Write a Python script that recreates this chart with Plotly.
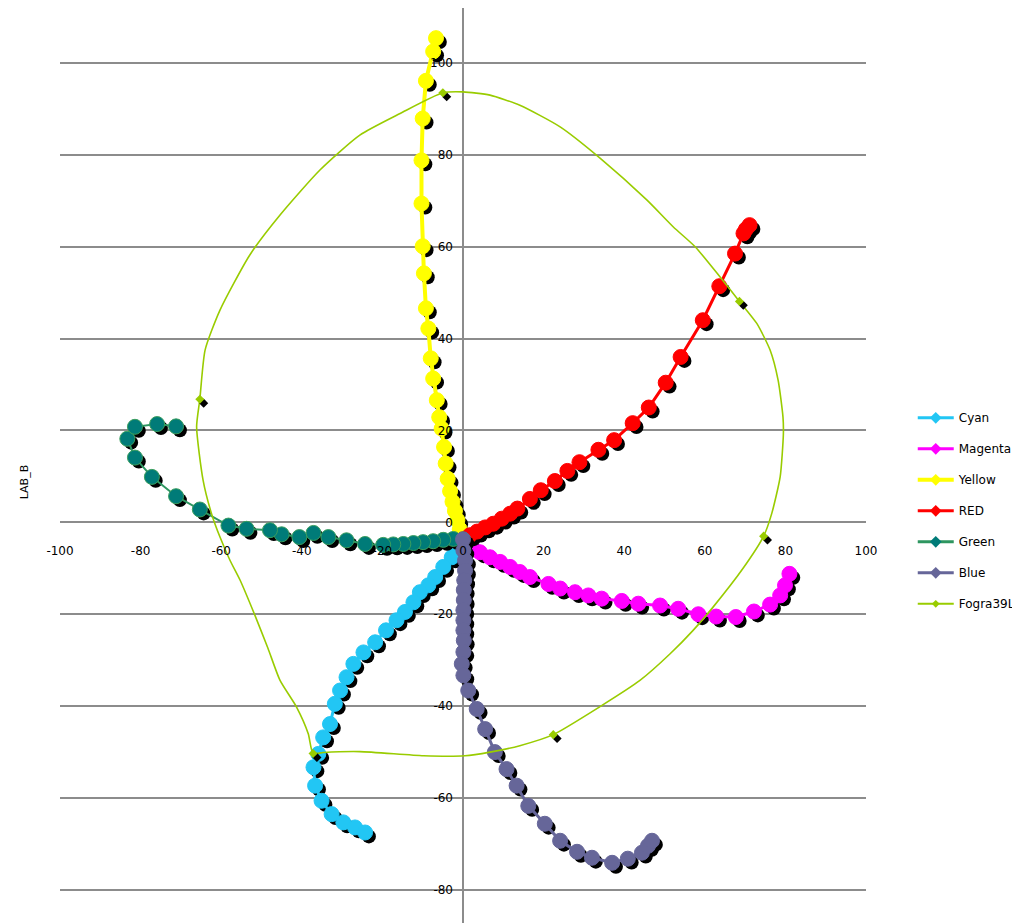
import plotly.graph_objects as go

# ---------------- data (a*, b*) ----------------
cyan_a = [0.0, -1.6, -2.8, -4.9, -6.9, -8.6, -10.7, -12.3, -14.4, -16.5, -19.1, -21.8, -24.7,
          -27.2, -28.9, -30.5, -31.8, -33.0, -34.7, -35.9, -37.1, -36.7, -35.1, -32.6, -29.7,
          -26.8, -24.3]
cyan_b = [-3.7, -6.5, -7.6, -9.7, -11.9, -13.7, -15.2, -17.4, -19.5, -21.3, -23.5, -26.1, -28.3,
          -30.8, -33.7, -36.6, -39.5, -43.9, -46.8, -50.4, -53.3, -57.3, -60.6, -63.5, -65.3,
          -66.4, -67.5]

magenta_a = [0.0, 1.7, 4.2, 6.7, 9.2, 11.7, 14.1, 16.6, 21.2, 24.1, 27.8, 31.1, 34.4, 39.4,
             43.5, 48.9, 53.4, 58.4, 62.8, 67.7, 72.2, 76.2, 78.7, 79.9, 81.0]
magenta_b = [-3.7, -5.0, -6.5, -7.6, -8.6, -9.7, -10.8, -11.9, -13.4, -14.4, -15.2, -15.9, -16.6,
             -17.1, -17.7, -18.1, -18.8, -20.0, -20.5, -20.6, -19.4, -17.9, -15.9, -13.7, -11.2]

yellow_a = [0.0, -0.8, -1.4, -2.0, -2.6, -3.2, -3.8, -4.3, -4.7, -5.3, -5.9, -6.5, -7.4, -8.0,
            -8.6, -9.2, -9.7, -10.0, -10.3, -10.3, -10.0, -9.2, -7.4, -6.7]
yellow_b = [-3.7, -1.5, 0.5, 2.5, 4.5, 6.8, 9.5, 12.8, 16.4, 20.4, 22.9, 26.6, 31.3, 35.7,
            42.2, 46.6, 54.2, 60.1, 69.4, 78.8, 87.9, 96.1, 102.5, 105.4]

red_a = [0.0, 1.7, 3.5, 5.5, 7.5, 9.6, 11.7, 13.5, 16.6, 19.3, 22.8, 25.9, 28.9, 33.6, 37.5,
         42.1, 46.1, 50.3, 54.0, 59.5, 63.6, 67.5, 69.6, 70.2, 71.1]
red_b = [-3.7, -2.8, -2.0, -1.1, -0.3, 0.8, 1.9, 3.0, 5.1, 7.0, 9.0, 11.2, 13.1, 15.8, 17.9,
         21.6, 25.0, 30.4, 36.0, 44.0, 51.4, 58.5, 62.9, 63.8, 64.7]

green_a = [0.0, -2.4, -4.9, -7.4, -9.9, -12.3, -14.8, -17.3, -19.8, -24.3, -28.9, -33.4, -37.1,
           -40.6, -45.0, -47.9, -53.7, -58.2, -65.3, -71.2, -77.2, -81.4, -83.3, -81.4, -75.9,
           -71.2]
green_b = [-3.7, -3.6, -3.8, -4.1, -4.3, -4.5, -4.7, -4.8, -4.9, -4.7, -3.9, -3.2, -2.3, -3.2,
           -2.6, -1.7, -1.4, -0.7, 2.8, 5.7, 9.9, 14.1, 18.2, 20.8, 21.4, 20.9]

blue_a = [0.0, 0.1, 0.5, 0.5, 0.3, 0.2, 0.2, 0.1, 0.1, 0.1, 0.2, 0.1, -0.3, 0.1, 1.3, 3.4, 5.5,
          7.9, 10.8, 13.3, 16.2, 20.3, 24.1, 28.3, 32.0, 37.0, 40.9, 44.4, 45.9, 46.9]
blue_b = [-3.7, -6.1, -8.3, -10.5, -12.6, -14.7, -16.9, -19.1, -21.3, -23.5, -25.7, -28.2, -30.8,
          -33.3, -36.6, -40.6, -45.0, -50.0, -53.7, -57.3, -61.7, -65.6, -69.3, -71.7, -73.0,
          -74.1, -73.2, -71.9, -70.4, -69.3]

# Fogra39L gamut outline and its six marked vertices
fogra_a = [-37.2, -34.7, -25.6, -9.8, 0.5, 6.7, 14.1, 22.4, 34.0, 43.9, 51.4, 57.1, 62.0, 69.5,
           74.6, 76.6, 78.7, 79.5, 79.4, 78.2, 76.2, 72.9, 68.6, 63.8, 57.6, 52.2, 45.6, 34.0,
           24.1, 14.1, 6.7, 0.0, -5.0, -15.6, -25.6, -35.5, -45.4, -52.9, -60.3, -64.0, -65.3,
           -66.1, -64.5, -62.4, -60.3, -57.8, -55.3, -51.6, -48.4, -45.4, -41.3, -38.4, -37.2]
fogra_b = [-50.3, -50.1, -49.9, -50.8, -50.8, -50.0, -48.6, -46.2, -40.1, -34.4, -28.6, -23.5,
           -18.5, -10.0, -3.0, 1.9, 9.9, 19.3, 22.9, 30.9, 37.5, 43.3, 48.1, 53.4, 60.0, 64.3,
           70.2, 79.3, 86.1, 90.8, 93.0, 93.7, 93.5, 89.0, 84.3, 76.7, 66.9, 58.2, 46.2, 37.5,
           26.8, 20.8, 9.2, 1.9, -3.2, -8.3, -12.6, -20.3, -27.4, -34.4, -40.2, -46.0, -50.3]
fogra_vertex_a = [-37.2, 22.4, 74.6, 68.6, -5.0, -65.3]
fogra_vertex_b = [-50.3, -46.2, -3.0, 48.1, 93.5, 26.8]

x_ticks = [-100, -80, -60, -40, -20, 0, 20, 40, 60, 80, 100]
y_ticks = [-80, -60, -40, -20, 0, 20, 40, 60, 80, 100]

# ---------------- styling ----------------
X_RANGE = [-100, 100]
Y_RANGE = [-87.2, 111.96]
SHADOW_DX = 0.95   # ~4 px to the right
SHADOW_DY = -0.85  # ~4 px down

series = [
    ("Cyan", cyan_a, cyan_b, "#22C6F4", "#22C6F4", None, 3),
    ("Magenta", magenta_a, magenta_b, "#FF00FF", "#FF00FF", None, 3),
    ("Yellow", yellow_a, yellow_b, "#FFFF00", "#FFFF00", None, 4),
    ("RED", red_a, red_b, "#FF0000", "#FF0000", None, 3),
    ("Green", green_a, green_b, "#007B78", "#2E9660", "#3A9E5E", 2),
    ("Blue", blue_a, blue_b, "#666699", "#666699", None, 3),
]

fig = go.Figure()

for name, xs, ys, mcol, lcol, mline, lw in series:
    fig.add_trace(go.Scatter(
        x=[v + SHADOW_DX for v in xs], y=[v + SHADOW_DY for v in ys],
        mode="markers", marker=dict(symbol="circle", size=14, color="black"),
        showlegend=False, hoverinfo="skip"))
    fig.add_trace(go.Scatter(
        x=xs, y=ys, mode="lines+markers", name=name,
        line=dict(color=lcol, width=lw),
        marker=dict(symbol="circle", size=15, color=mcol,
                    line=dict(color=mline if mline else mcol, width=1)),
        showlegend=False))

# Fogra39L
fig.add_trace(go.Scatter(x=fogra_a, y=fogra_b, mode="lines",
                         line=dict(color="#99CC00", width=1.6, shape="spline", smoothing=0.6),
                         showlegend=False, hoverinfo="skip"))
fig.add_trace(go.Scatter(
    x=[v + SHADOW_DX for v in fogra_vertex_a], y=[v + SHADOW_DY for v in fogra_vertex_b],
    mode="markers", marker=dict(symbol="diamond", size=7, color="black"),
    showlegend=False, hoverinfo="skip"))
fig.add_trace(go.Scatter(x=fogra_vertex_a, y=fogra_vertex_b, mode="markers",
                         marker=dict(symbol="diamond", size=7, color="#99CC00"),
                         showlegend=False))

# legend proxies
legend_items = [(s[0], s[3], s[4], max(s[6], 3)) for s in series] + [("Fogra39L", "#99CC00", "#99CC00", 2)]
for i, (name, mcol, lcol, lw) in enumerate(legend_items):
    fig.add_trace(go.Scatter(
        x=[None], y=[None], mode="lines+markers", name=name, legendgroup=f"g{i}",
        line=dict(color=lcol, width=lw),
        marker=dict(symbol="diamond", size=9 if name != "Fogra39L" else 6, color=mcol)))

grid_col = "#8C8C8C"
fig.update_layout(
    width=1012, height=915,
    margin=dict(l=52, r=154, t=0, b=0),
    paper_bgcolor="white", plot_bgcolor="white",
    font=dict(family="DejaVu Sans", size=12, color="black"),
    xaxis=dict(range=X_RANGE, tickvals=x_ticks, ticktext=[str(v) for v in x_ticks],
               showgrid=False, zeroline=True, zerolinecolor=grid_col, zerolinewidth=1.5,
               showline=False, ticks="", anchor="free",
               position=(0 - Y_RANGE[0]) / (Y_RANGE[1] - Y_RANGE[0]),
               ticklabelstandoff=20, tickfont=dict(size=12)),
    yaxis=dict(range=Y_RANGE, tickvals=y_ticks, ticktext=[str(v) for v in y_ticks],
               showgrid=True, gridcolor=grid_col, gridwidth=1.5,
               zeroline=True, zerolinecolor=grid_col, zerolinewidth=1.5,
               showline=False, ticks="", anchor="free", position=0.5,
               ticklabelstandoff=10, tickfont=dict(size=12)),
    legend=dict(x=1.058, xanchor="left", y=0.568, yanchor="top",
                traceorder="grouped", tracegroupgap=12,
                font=dict(size=12), bgcolor="rgba(0,0,0,0)", itemwidth=36),
    showlegend=True,
    annotations=[dict(text="LAB_B", xref="paper", yref="paper", x=-0.043, y=0.482,
                      textangle=-90, showarrow=False, font=dict(size=11),
                      xanchor="center", yanchor="middle")],
)

fig.write_html("out.html")
